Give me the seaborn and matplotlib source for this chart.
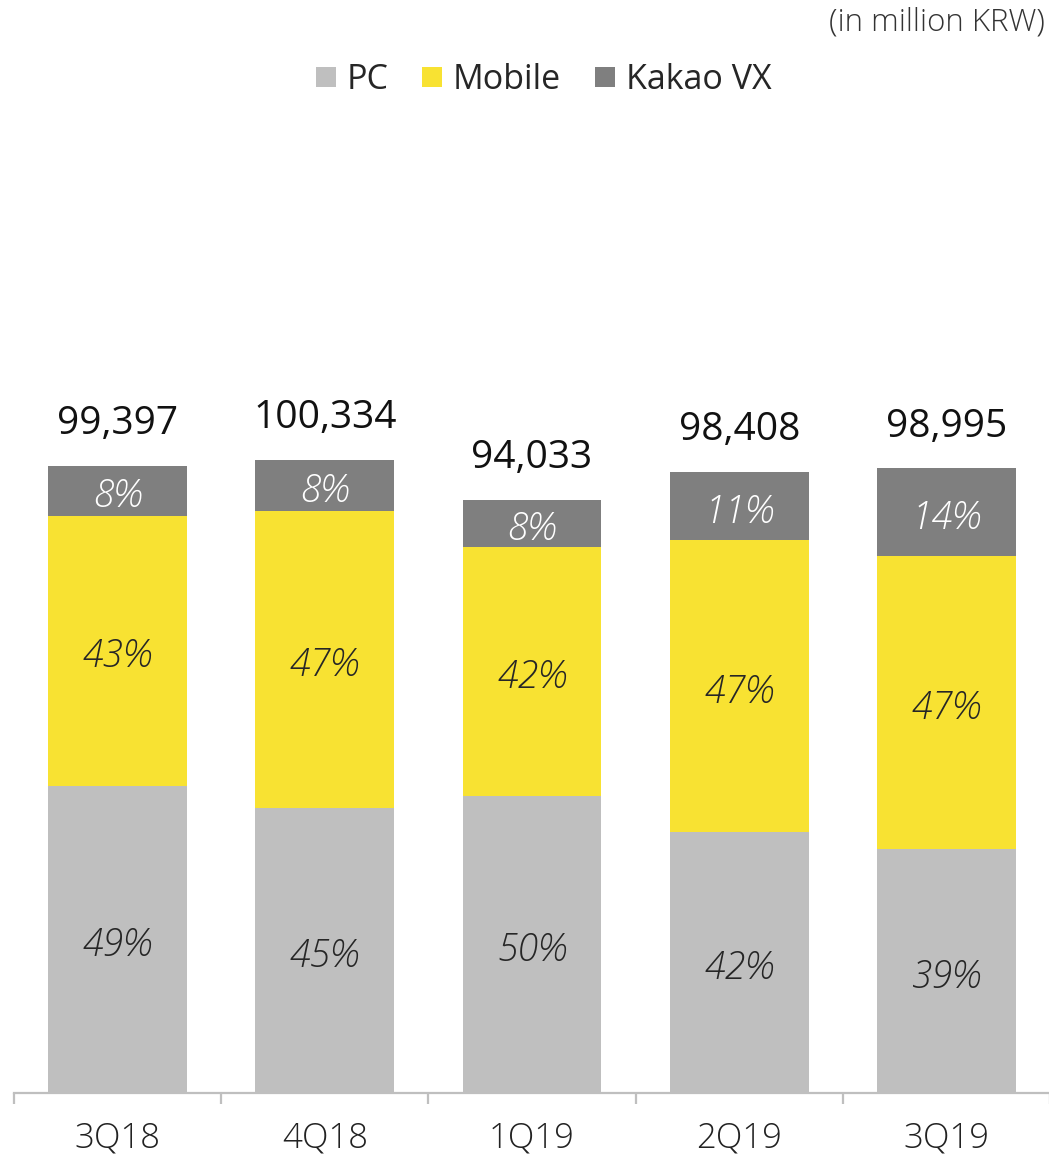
import matplotlib
matplotlib.use("Agg")
import matplotlib.pyplot as plt
import seaborn as sns
import pandas as pd
import numpy as np
from matplotlib.lines import Line2D

quarters = ["3Q18", "4Q18", "1Q19", "2Q19", "3Q19"]
totals = [99397, 100334, 94033, 98408, 98995]
pc_pct = [49, 45, 50, 42, 39]
mobile_pct = [43, 47, 42, 47, 47]
vx_pct = [8, 8, 8, 11, 14]

series_names = ["PC", "Mobile", "Kakao VX"]
colors = {"PC": "#BFBFBF", "Mobile": "#F8E232", "Kakao VX": "#7F7F7F"}
label_colors = {"PC": "#262626", "Mobile": "#262626", "Kakao VX": "#FFFFFF"}

sns.set_theme(style="white")
plt.rcParams["font.family"] = ["Open Sans", "DejaVu Sans"]

tot = np.array(totals, dtype=float)
pcs = {"PC": np.array(pc_pct), "Mobile": np.array(mobile_pct), "Kakao VX": np.array(vx_pct)}
vals = {k: tot * v / 100.0 for k, v in pcs.items()}
cum_pc = vals["PC"]
cum_mob = cum_pc + vals["Mobile"]
cum_all = cum_mob + vals["Kakao VX"]

df = pd.DataFrame({"quarter": quarters, "PC": cum_pc, "Mobile": cum_mob, "Kakao VX": cum_all})

fig = plt.figure(figsize=(10.49, 11.55), dpi=100)
ax = fig.add_axes([14/1049, 62/1155, 1036/1049, (1093-120)/1155])

bw = 0.67
for name in ["Kakao VX", "Mobile", "PC"]:
    sns.barplot(data=df, x="quarter", y=name, order=quarters, color=colors[name],
                width=bw, saturation=1, ax=ax, linewidth=0, zorder=2)

bottoms = {"PC": np.zeros(5), "Mobile": cum_pc, "Kakao VX": cum_mob}
for name in series_names:
    for i in range(5):
        y = bottoms[name][i] + vals[name][i] / 2
        ax.annotate(f"{pcs[name][i]}%", xy=(i, y), xytext=(0, -4.5), textcoords="offset points",
                    ha="center", va="center", fontsize=27,
                    fontstyle="italic", fontweight="light", color=label_colors[name], zorder=5)

for i in range(5):
    ax.annotate(f"{totals[i]:,}", xy=(i, cum_all[i]), xytext=(0, 30), textcoords="offset points",
                ha="center", va="center", fontsize=28, color="#111111", fontweight="normal")

ax.set_xlim(-0.5, 4.5)
ax.set_ylim(0, (1093 - 120) / 6.31 * 1000)
ax.set_xlabel("")
ax.set_ylabel("")
ax.set_yticks([])
for s in ["top", "right", "left"]:
    ax.spines[s].set_visible(False)
ax.spines["bottom"].set_color("#BFBFBF")
ax.spines["bottom"].set_linewidth(1.6)
ax.set_xticks(range(5))
ax.set_xticklabels(quarters, fontsize=25, color="#222222", fontweight="light")
ax.set_xticks(np.arange(-0.5, 5.0, 1.0), minor=True)
ax.tick_params(axis="x", which="major", length=0, pad=20)
ax.tick_params(axis="x", which="minor", length=8, width=1.6, color="#BFBFBF", direction="out", bottom=True)

handles = [Line2D([0], [0], marker="s", linestyle="", markersize=15,
                  markerfacecolor=colors[n], markeredgewidth=0) for n in series_names]
fig.legend(handles, series_names, loc="center", bbox_to_anchor=(540/1049, 1 - 80/1155),
           ncol=3, frameon=False, fontsize=24.5, handletextpad=0.1, columnspacing=0.8,
           handlelength=1.0)

fig.text(1045/1049, 1 - 22/1155, "(in million KRW)", ha="right", va="center", fontsize=22.5,
         color="#333333", fontweight="light")

fig.savefig("out.png", dpi=100)
